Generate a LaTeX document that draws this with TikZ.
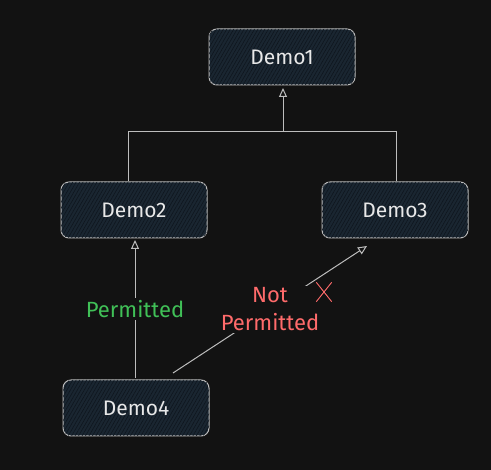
\documentclass[tikz,border=0pt]{standalone}
\usepackage{fontspec}
\setmainfont{Fira Sans}
\usetikzlibrary{arrows.meta,patterns.meta}
\definecolor{bg}{HTML}{121212}
\definecolor{boxfill}{HTML}{1A2631}
\definecolor{hatch}{HTML}{0F161E}
\definecolor{edge}{HTML}{BDBDBD}
\definecolor{txt}{HTML}{E8E8E8}
\definecolor{okgreen}{HTML}{40C057}
\definecolor{nored}{HTML}{FF6B6B}
\tikzset{
  box/.style={draw=edge, line width=1pt, fill=boxfill, rounded corners=8pt,
    minimum width=146pt, minimum height=56pt, text=txt, font=\fontsize{21}{24}\selectfont,
    postaction={pattern={Lines[angle=60,distance=3pt,line width=0.6pt]}, pattern color=hatch}},
  conn/.style={draw=edge, line width=1pt},
  arr/.style={conn, -{Triangle[open, length=9pt, width=8pt]}},
  lbl/.style={fill=bg, font=\fontsize{22}{28}\selectfont, inner sep=2pt, align=center}
}
\begin{document}
\begin{tikzpicture}[x=1pt,y=-1pt]
\fill[bg] (0,0) rectangle (491,470);
\useasboundingbox (0,0) rectangle (491,470);
\node[box] (d1) at (282,57) {Demo1};
\node[box] (d2) at (134,210) {Demo2};
\node[box] (d3) at (395,210) {Demo3};
\node[box] (d4) at (136,408) {Demo4};
\coordinate (j) at (283,132);
\coordinate (d1b) at (283,88);
\draw[conn] (d2.north -| 128,0) |- (j);
\draw[conn] (d3.north -| 396,0) |- (j);
\draw[arr] (j) -- (d1b);
\coordinate (p1) at (135,378);
\coordinate (p2) at (135,240);
\draw[arr] (p1) -- node[lbl, text=okgreen] (pl) {Permitted} (p2);
\coordinate (n1) at (173,373);
\coordinate (n2) at (367,246);
\draw[arr] (n1) -- node[lbl, text=nored, pos=0.5] (nl) {Not\\Permitted} (n2);
\node[inner sep=0pt, minimum width=15pt, minimum height=19pt] (xm) at (324,292) {};
\draw[nored, line width=0.9pt] (xm.north west) -- (xm.south east) (xm.north east) -- (xm.south west);
\end{tikzpicture}
\end{document}
